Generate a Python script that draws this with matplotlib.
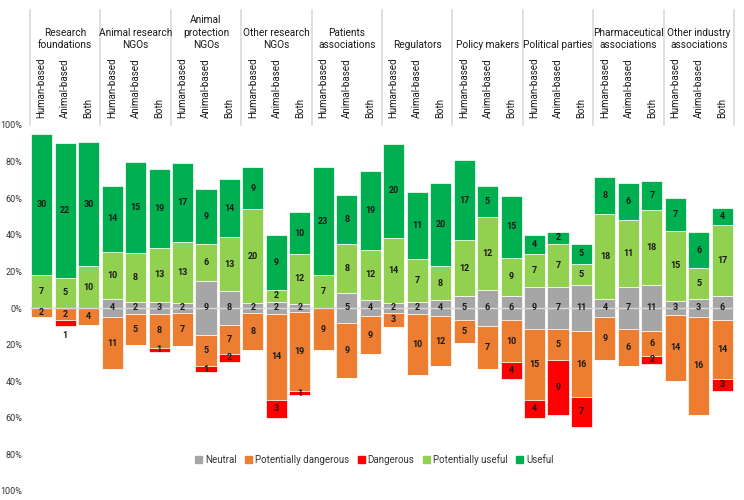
import numpy as np
import matplotlib
matplotlib.use("Agg")
import matplotlib.pyplot as plt
from matplotlib.patches import Patch

plt.rcParams['font.family'] = ['Roboto', 'DejaVu Sans']

# Stakeholder groups, three bars each
groups = ["Research\nfoundations", "Animal research\nNGOs", "Animal\nprotection\nNGOs",
          "Other research\nNGOs", "Patients\nassociations", "Regulators", "Policy makers",
          "Political parties", "Pharmaceutical\nassociations", "Other industry\nassociations"]
sub_labels = ["Human-based", "Animal-based", "Both"]

# Counts per bar (10 groups x Human-based, Animal-based, Both)
neutral = [0, 0, 0, 4, 2, 3, 2, 9, 8, 2, 2, 2, 0, 5, 4,
           2, 2, 4, 5, 6, 6, 9, 7, 11, 4, 7, 11, 3, 3, 6]
pot_danger = [2, 2, 4, 11, 5, 8, 7, 5, 7, 8, 14, 19, 9, 9, 9,
              3, 10, 12, 5, 7, 10, 15, 5, 16, 9, 6, 6, 14, 16, 14]
danger = [0, 1, 0, 0, 0, 1, 0, 1, 2, 0, 3, 1, 0, 0, 0,
          0, 0, 0, 0, 0, 4, 4, 9, 7, 0, 0, 2, 0, 0, 3]
pot_useful = [7, 5, 10, 10, 8, 13, 13, 6, 13, 20, 2, 12, 7, 8, 12,
              14, 7, 8, 12, 12, 9, 7, 7, 5, 18, 11, 18, 15, 5, 17]
useful = [30, 22, 30, 14, 15, 19, 17, 9, 14, 9, 9, 10, 23, 8, 19,
          20, 11, 20, 17, 5, 15, 4, 2, 5, 8, 6, 7, 7, 6, 4]

c_neutral = "#a6a6a6"
c_pd = "#ed7d31"
c_d = "#ff0000"
c_pu = "#92d050"
c_u = "#00b050"

n = np.array(neutral, float)
pd_ = np.array(pot_danger, float)
d = np.array(danger, float)
pu = np.array(pot_useful, float)
u = np.array(useful, float)
total = n + pd_ + d + pu + u
# percentages
N = n / total * 100
PD = pd_ / total * 100
D = d / total * 100
PU = pu / total * 100
U = u / total * 100

x = np.arange(len(neutral))
w = 0.9

fig = plt.figure(figsize=(7.44, 5), dpi=100)
ax = fig.add_axes([30 / 744, 1 - 491 / 500, 704 / 744, 366 / 500])

kw = dict(width=w, edgecolor="white", linewidth=0.5)
ax.bar(x, N, bottom=-N / 2, color=c_neutral, **kw)
ax.bar(x, -PD, bottom=-N / 2, color=c_pd, **kw)
ax.bar(x, -D, bottom=-N / 2 - PD, color=c_d, **kw)
ax.bar(x, PU, bottom=N / 2, color=c_pu, **kw)
ax.bar(x, U, bottom=N / 2 + PU, color=c_u, **kw)

ax.axhline(0, color="#d9d9d9", lw=1, zorder=5)

# segment labels
lab = dict(ha="center", va="center", fontsize=6.5, fontweight="bold", color="#1a1a1a", zorder=6)
for i in x:
    if n[i]:
        ax.text(i, 0, int(n[i]), **lab)
    if pd_[i]:
        ax.text(i, -N[i] / 2 - PD[i] / 2, int(pd_[i]), **lab)
    if d[i]:
        yy = -N[i] / 2 - PD[i] - D[i] / 2
        if i == 1:
            yy = -N[i] / 2 - PD[i] - D[i] - 5
        ax.text(i, yy, int(d[i]), **lab)
    if pu[i]:
        ax.text(i, N[i] / 2 + PU[i] / 2, int(pu[i]), **lab)
    if u[i]:
        ax.text(i, N[i] / 2 + PU[i] + U[i] / 2, int(u[i]), **lab)

ax.set_xlim(-0.5, len(x) - 0.5)
ax.set_ylim(-100, 100)
ticks = np.arange(-100, 101, 20)
ax.set_yticks(ticks)
ax.set_yticklabels([f"{abs(t)}%" for t in ticks], fontsize=6.5, color="#333333")
ax.tick_params(axis="y", length=0, pad=5.5)
ax.set_xticks([])
for s in ax.spines.values():
    s.set_visible(False)

# header: group names, sub labels, separators
for g, name in enumerate(groups):
    ax.text(g * 3 + 1, 141, name, ha="center", va="bottom", fontsize=7.3,
            color="#1a1a1a", linespacing=1.3, clip_on=False)
for i in x:
    ax.text(i, 104, sub_labels[i % 3], rotation=90, ha="center", va="bottom",
            fontsize=7, color="#1a1a1a", clip_on=False)
for b in range(len(groups) + 1):
    ax.plot([b * 3 - 0.5, b * 3 - 0.5], [100, 163], color="#d9d9d9", lw=1.2, clip_on=False)

handles = [Patch(color=c_neutral, label="Neutral"),
           Patch(color=c_pd, label="Potentially dangerous"),
           Patch(color=c_d, label="Dangerous"),
           Patch(color=c_pu, label="Potentially useful"),
           Patch(color=c_u, label="Useful")]
ax.legend(handles=handles, loc="center", bbox_to_anchor=(0.489, 0.087), ncol=5,
          frameon=False, fontsize=7, handlelength=0.7, handleheight=0.7,
          handletextpad=0.3, columnspacing=0.9, labelcolor="#333333")

fig.savefig("out.png", dpi=100)
